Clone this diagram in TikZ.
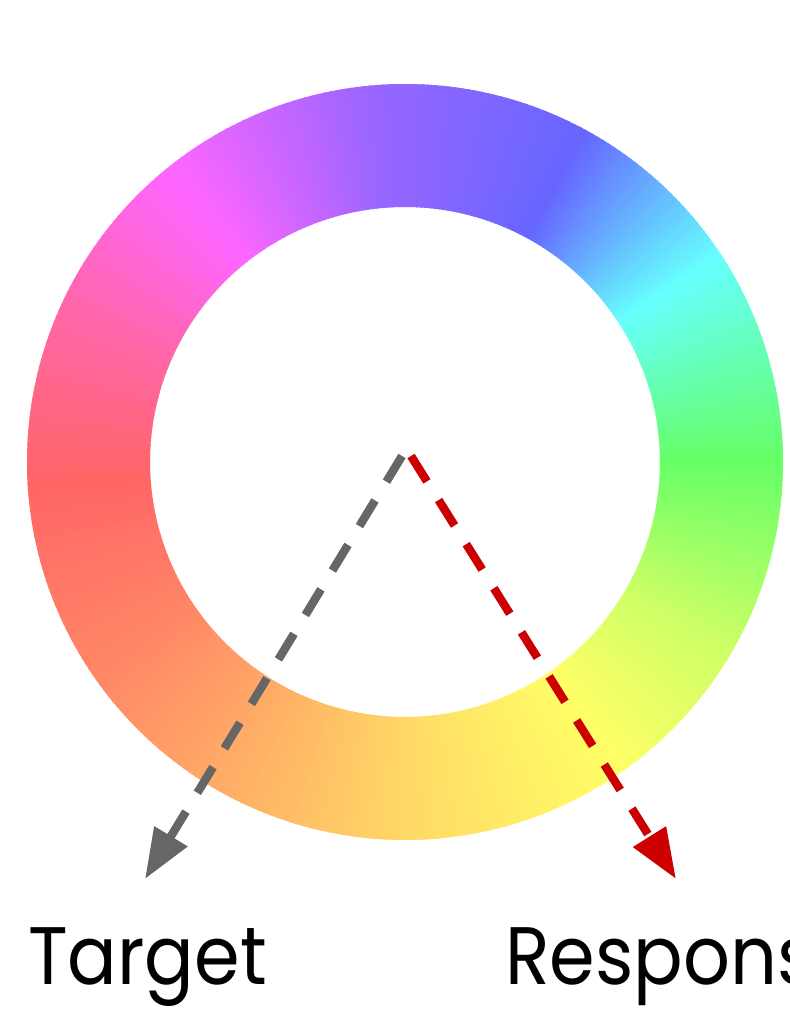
\documentclass[tikz,border=0pt]{standalone}
\usepackage{fontspec}
\setmainfont{Poppins}[FakeStretch=0.9]
\usetikzlibrary{arrows.meta}

% Wheel colours
\definecolor{wgreen}{HTML}{66FF66}
\definecolor{wcyan}{HTML}{66FFFF}
\definecolor{wblue}{HTML}{6666FF}
\definecolor{wpurple}{HTML}{9966FF}
\definecolor{wmagenta}{HTML}{FF66FF}
\definecolor{wpink}{HTML}{FF66AA}
\definecolor{wred}{HTML}{FF6666}
\definecolor{worange}{HTML}{FF8866}
\definecolor{wlorange}{HTML}{FFBB66}
\definecolor{wgold}{HTML}{FFD966}
\definecolor{wyellow}{HTML}{FFFF66}
\definecolor{wlime}{HTML}{CCFF66}
\definecolor{targetgray}{HTML}{666666}
\definecolor{responsered}{HTML}{CC0000}

\begin{document}
\begin{tikzpicture}[x=0.025cm, y=0.025cm]

% Styles
\tikzset{
  guess/.style={line width=6pt, dash pattern=on 0.75cm off 0.55cm,
    -{Triangle[length=1.25cm, width=0.92cm]}},
  label/.style={font=\fontsize{58}{58}\selectfont, anchor=base west, inner sep=0pt}
}

\useasboundingbox (0,0) rectangle (789,1011);

% Coordinates
\coordinate (centre) at (405,549);
\coordinate (tstart) at (402,555);
\coordinate (rstart) at (411,555);
\coordinate (ttip) at (145,132);   % end of target arrow
\coordinate (rtip) at (676,132);   % end of response arrow

% Colour ring (outer 378, inner 255)
\begin{scope}[shift={(centre)}]
\foreach \a/\b/\ca/\cb in {0/33/wgreen/wcyan, 33/61/wcyan/wblue,
    61/95/wblue/wpurple, 95/129/wpurple/wmagenta, 129/155/wmagenta/wpink,
    155/183/wpink/wred, 183/215/wred/worange, 215/250/worange/wlorange,
    250/270/wlorange/wgold, 270/305/wgold/wyellow, 305/330/wyellow/wlime,
    330/360/wlime/wgreen}{
  \pgfmathtruncatemacro\n{\b-\a-1}
  \foreach \i in {0,...,\n}{
    \pgfmathtruncatemacro\p{100-100*\i/(\b-\a)}
    \pgfmathsetmacro\s{\a+\i}
    \pgfmathsetmacro\e{\a+\i+1.6}
    \fill[\ca!\p!\cb] (\s:378) arc[start angle=\s, end angle=\e, radius=378]
      -- (\e:255) arc[start angle=\e, end angle=\s, radius=255] -- cycle;
  }
}
\end{scope}

% Arrows
\draw[guess, targetgray] (tstart) -- (ttip);
\draw[guess, responsered] (rstart) -- (rtip);

% Labels
\node[label] (target) at (28,26) {Target};
\node[label] (response) at (505,26) {Response};

\end{tikzpicture}
\end{document}
